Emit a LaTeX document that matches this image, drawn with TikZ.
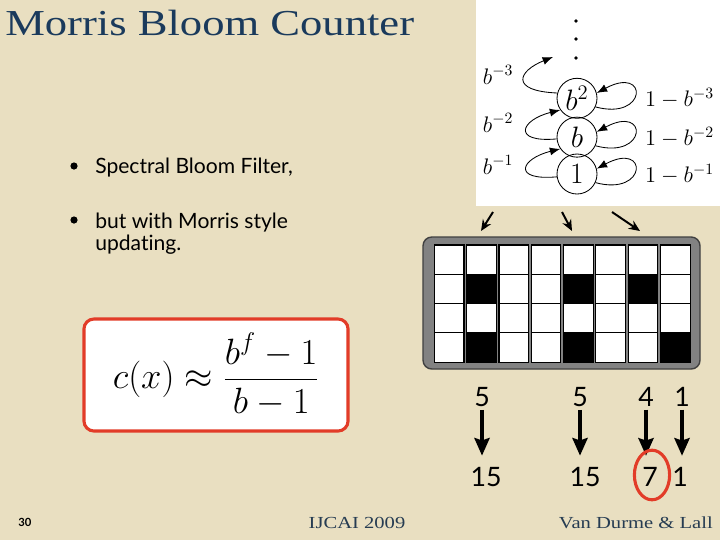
\documentclass[tikz,border=0pt]{standalone}
\usepackage{fix-cm}
\usepackage[no-math]{fontspec}
\newfontfamily\mbserif[FakeStretch=1.22]{Liberation Serif}
\newfontfamily\mbsans[Ligatures=NoCommon]{Lato}
\usetikzlibrary{positioning,arrows.meta,calc}
\definecolor{mbpaper}{RGB}{233,223,193}
\definecolor{mbnavy}{RGB}{26,58,92}
\definecolor{mbfootc}{RGB}{38,60,82}
\definecolor{mbred}{RGB}{226,60,40}
\definecolor{mbgrey}{RGB}{130,130,130}
\tikzset{
  mb/.style={font=\mbsans\fontsize{15}{18}\selectfont, text=black},
  mbtitle/.style={font=\mbserif\fontsize{26}{30}\selectfont, text=mbnavy, inner sep=0pt, anchor=base west},
  mbfoot/.style={font=\mbserif\fontsize{12}{14}\selectfont, text=mbfootc, inner sep=0pt, anchor=base},
  mbitem/.style={mb, inner sep=0pt, anchor=base west},
  mbdot/.style={circle, fill=black, inner sep=0pt, minimum size=0.18cm},
  mbbox/.style={draw=mbred, fill=white, line width=2.2pt, rounded corners=0.25cm,
    minimum width=6.6cm, minimum height=2.8cm, font=\fontsize{26}{30}\selectfont},
  mbstate/.style={draw, circle, line width=0.6pt, inner sep=0pt, minimum size=1cm,
    font=\fontsize{21}{24}\selectfont},
  mbmath/.style={font=\fontsize{16}{18}\selectfont, inner sep=1pt},
  mbloop/.style={-{Latex[length=2.6mm,width=2mm]}, line width=0.6pt},
  mbarr/.style={-{Stealth[length=2.8mm,width=2.4mm]}, line width=1.4pt},
  mbdown/.style={-{Stealth[length=4.4mm,width=3.8mm,inset=0.6mm]}, line width=2.4pt,
    shorten <=1pt, shorten >=0.25cm},
  mbnum/.style={mb, font=\mbsans\fontsize{19}{22}\selectfont, inner sep=1pt},
  mbcell/.style={draw, fill=white, line width=0.8pt, inner sep=0pt,
    minimum width=0.74cm, minimum height=0.7325cm},
  mbframe/.style={fill=mbgrey, draw=black!75, line width=1pt, rounded corners=0.22cm},
}

\begin{document}
\begin{tikzpicture}[x=0.025cm, y=-0.025cm]
    \fill[mbpaper] (0,0) rectangle (720,540);
    \useasboundingbox (0,0) rectangle (720,540);
    \fill[white] (476,0) rectangle (720,206);

    % Titel
    \node[mbtitle] (title) at (5,35) {Morris Bloom Counter};

    % Punkte
    \node[mbdot] (d1) at (74,166) {};
    \node[mbitem] (it1) at (95,173) {Spectral Bloom Filter,};
    \node[mbdot] (d2) at (74,220) {};
    \node[mbitem] (it2) at (95,228) {but with Morris style};
    \node[mbitem] (it3) at (95,250) {updating.};

    % Formel
    \node[mbbox] (formula) at (216,375) {$\displaystyle c(x)\approx\frac{b^f-1}{b-1}$};

    % Zustaende
    \node[mbstate] (one) at (577,174) {$1$};
    \node[mbstate, above=-0.1cm of one] (bee) {$b$};
    \node[mbstate, above=-0.05cm of bee] (bsq) {$b^2$};
    \foreach \y in {21,39,58}
      \fill (576,\y) circle (1.3pt);
    \coordinate (top) at (553,57);

    \node[mbmath] (p1) at (498,165) {$b^{-1}$};
    \node[mbmath] (p2) at (498,123) {$b^{-2}$};
    \node[mbmath] (p3) at (498,75) {$b^{-3}$};
    \node[mbmath, right=1.15cm of one] (q1) {$1-b^{-1}$};
    \node[mbmath, right=1.15cm of bee] (q2) {$1-b^{-2}$};
    \node[mbmath, right=1.15cm of bsq] (q3) {$1-b^{-3}$};

    \draw[mbloop] (one.-25) .. controls +(52,14) and +(52,-28) .. (one.15);
    \draw[mbloop] (bee.-25) .. controls +(52,14) and +(52,-28) .. (bee.15);
    \draw[mbloop] (bsq.-25) .. controls +(52,14) and +(52,-28) .. (bsq.15);
    \draw[mbloop] (one.188) .. controls +(-45,4) and +(-40,10) .. (bee.215);
    \draw[mbloop] (bee.185) .. controls +(-45,4) and +(-40,10) .. (bsq.215);
    \draw[mbloop] (bsq.165) .. controls +(-48,-2) and +(-35,14) .. (top);

    % Filter
    \draw[mbframe] (423,237) rectangle (700,369);
    \foreach \i in {1,...,8}
      \foreach \j in {1,...,4}
        \node[mbcell] (c\i\j) at ({433+32.3*(\i-0.5)},{245+29.3*(\j-0.5)}) {};
    \foreach \c in {c22,c24,c52,c54,c72,c84}
      \fill[black] (\c.south west) rectangle (\c.north east);

    \coordinate (s1) at (493,212);
    \coordinate (s2) at (562,212);
    \coordinate (s3) at (612,212);
    \coordinate (e1) at (481,231);
    \coordinate (e2) at (572,231);
    \coordinate (e3) at (640,231);
    \draw[mbarr] (s1) -- (e1);
    \draw[mbarr] (s2) -- (e2);
    \draw[mbarr] (s3) -- (e3);

    % Zahlen
    \node[mbnum] (n1) at (482,397) {5};
    \node[mbnum] (n2) at (580,397) {5};
    \node[mbnum] (n3) at (646,397) {4};
    \node[mbnum] (n4) at (682,397) {1};
    \node[mbnum] (r1) at (486,477) {15};
    \node[mbnum] (r2) at (585,477) {15};
    \node[mbnum] (r3) at (650,477) {7};
    \node[mbnum] (r4) at (680,477) {1};

    \draw[mbdown] (n1.south) -- (n1.south |- r1.north);
    \draw[mbdown] (n2.south) -- (n2.south |- r2.north);
    \draw[mbdown] (n3.south) -- (n3.south |- r3.north);
    \draw[mbdown] (n4.south) -- (n4.south |- r4.north);
    \draw[mbred, line width=2.2pt] ($(r3)+(2,-2)$) ellipse [x radius=0.44cm, y radius=0.62cm];

    % Fusszeile
    \node[font=\mbsans\bfseries\fontsize{8}{9}\selectfont] (page) at (25,522) {30};
    \node[mbfoot] (conf) at (357,528) {IJCAI 2009};
    \node[mbfoot, anchor=base east] (auth) at (713,528) {Van Durme \& Lall};
\end{tikzpicture}
\end{document}
